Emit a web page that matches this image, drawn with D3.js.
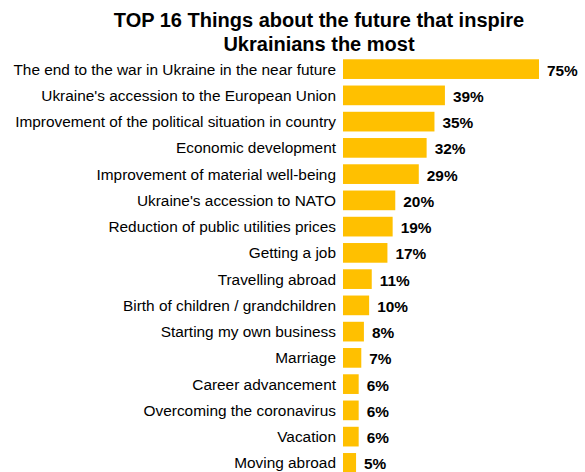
<!DOCTYPE html>
<html>
<head>
<meta charset="utf-8">
<script src="https://cdn.jsdelivr.net/npm/d3@7"></script>
<style>
  html, body { margin: 0; padding: 0; background: #fff; }
  svg { display: block; font-family: "Liberation Sans", Arial, sans-serif; }
</style>
</head>
<body>
<svg id="chart" width="585" height="472"></svg>
<script>
// Survey answers, ordered from most to least mentioned
const categories = [
  "The end to the war in Ukraine in the near future",
  "Ukraine's accession to the European Union",
  "Improvement of the political situation in country",
  "Economic development",
  "Improvement of material well-being",
  "Ukraine's accession to NATO",
  "Reduction of public utilities prices",
  "Getting a job",
  "Travelling abroad",
  "Birth of children / grandchildren",
  "Starting my own business",
  "Marriage",
  "Career advancement",
  "Overcoming the coronavirus",
  "Vacation",
  "Moving abroad"
];
const values = [75, 39, 35, 32, 29, 20, 19, 17, 11, 10, 8, 7, 6, 6, 6, 5];
const titleLines = ["TOP 16 Things about the future that inspire", "Ukrainians the most"];

const svg = d3.select("#chart");
const plotLeft = 343, plotTop = 56;
const step = 26.25;

const x = d3.scaleLinear().domain([0, 75]).range([plotLeft, 539]);
const y = d3.scaleBand()
  .domain(categories)
  .range([plotTop, plotTop + step * categories.length])
  .paddingInner(0.25)
  .paddingOuter(0.125);

// Title
svg.append("text")
  .attr("x", 319)
  .attr("y", 27)
  .attr("text-anchor", "middle")
  .attr("font-weight", "bold")
  .attr("font-size", 20)
  .attr("fill", "#000")
  .selectAll("tspan")
  .data(titleLines)
  .join("tspan")
  .attr("x", 319)
  .attr("dy", (d, i) => i === 0 ? 0 : 23.5)
  .text(d => d);

// Bars
svg.append("g")
  .selectAll("rect")
  .data(values)
  .join("rect")
  .attr("x", x(0))
  .attr("y", (d, i) => y(categories[i]))
  .attr("width", d => x(d) - x(0))
  .attr("height", y.bandwidth())
  .attr("fill", "#FFC000");

// Category labels
svg.append("g")
  .selectAll("text")
  .data(categories)
  .join("text")
  .attr("x", 336)
  .attr("y", d => y(d) + y.bandwidth() / 2)
  .attr("dy", "0.35em")
  .attr("text-anchor", "end")
  .attr("font-size", 15.4)
  .attr("fill", "#000")
  .text(d => d);

// Value labels
svg.append("g")
  .selectAll("text")
  .data(values)
  .join("text")
  .attr("x", d => x(d) + 8)
  .attr("y", (d, i) => y(categories[i]) + y.bandwidth() / 2 + 1)
  .attr("dy", "0.35em")
  .attr("font-size", 15.4)
  .attr("font-weight", "bold")
  .attr("fill", "#000")
  .text(d => d + "%");
</script>
</body>
</html>
